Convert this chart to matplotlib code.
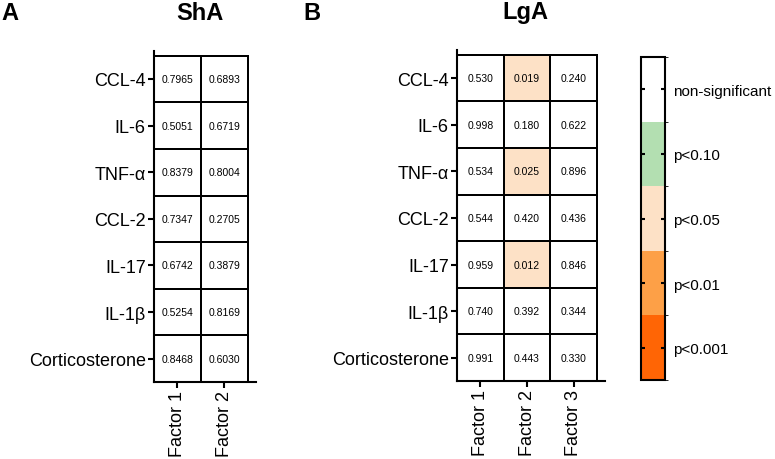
import numpy as np
import matplotlib
matplotlib.use("Agg")
import matplotlib.pyplot as plt
from matplotlib.colors import ListedColormap, BoundaryNorm
from matplotlib.cm import ScalarMappable

plt.rcParams['font.family'] = ['Liberation Sans', 'DejaVu Sans']

rows = ["CCL-4", "IL-6", "TNF-α", "CCL-2", "IL-17", "IL-1β", "Corticosterone"]
sha_cols = ["Factor 1", "Factor 2"]
lga_cols = ["Factor 1", "Factor 2", "Factor 3"]

sha_p = [[0.7965, 0.6893],
         [0.5051, 0.6719],
         [0.8379, 0.8004],
         [0.7347, 0.2705],
         [0.6742, 0.3879],
         [0.5254, 0.8169],
         [0.8468, 0.6030]]
sha_txt = [["0.7965", "0.6893"], ["0.5051", "0.6719"], ["0.8379", "0.8004"],
           ["0.7347", "0.2705"], ["0.6742", "0.3879"], ["0.5254", "0.8169"],
           ["0.8468", "0.6030"]]

lga_p = [[0.530, 0.019, 0.240],
         [0.998, 0.180, 0.622],
         [0.534, 0.025, 0.896],
         [0.544, 0.420, 0.436],
         [0.959, 0.012, 0.846],
         [0.740, 0.392, 0.344],
         [0.991, 0.443, 0.330]]

bounds = [0, 0.001, 0.01, 0.05, 0.10, 1.0]
band_labels = ["p<0.001", "p<0.01", "p<0.05", "p<0.10", "non-significant"]
colors = ["#ff6505", "#fda047", "#fde1c6", "#b3dfb1", "#ffffff"]

cmap = ListedColormap(colors)
norm = BoundaryNorm(bounds, cmap.N)

fig = plt.figure(figsize=(7.75, 4.6), dpi=100)


def heat(ax, p, labels, cols):
    p = np.array(p)
    nr, nc = p.shape
    ax.pcolormesh(np.arange(nc + 1), np.arange(nr + 1), p, cmap=cmap, norm=norm,
                  edgecolor="black", linewidth=1.1)
    for i in range(nr):
        for j in range(nc):
            ax.text(j + 0.5, i + 0.5, labels[i][j], ha="center", va="center", fontsize=7.5)
    ax.set_xlim(0, nc + 0.17)
    ax.set_ylim(nr, -0.1)
    ax.spines["top"].set_visible(False)
    ax.spines["right"].set_visible(False)
    ax.spines["left"].set_linewidth(1.5)
    ax.spines["bottom"].set_linewidth(1.5)
    ax.set_xticks(np.arange(nc) + 0.5)
    ax.set_xticklabels(cols, rotation=90, fontsize=13)
    ax.set_yticks(np.arange(nr) + 0.5)
    ax.set_yticklabels(rows, fontsize=13)
    ax.tick_params(length=4, width=1.5, pad=2)


ax1 = fig.add_axes([0.1987, 0.1674, 0.1316, 0.7196])
heat(ax1, sha_p, sha_txt, sha_cols)

ax2 = fig.add_axes([0.5897, 0.1696, 0.191, 0.719])
heat(ax2, lga_p, [["%.3f" % v for v in r] for r in lga_p], lga_cols)

cax = fig.add_axes([0.827, 0.1717, 0.031, 0.702])
centers = [(bounds[k] + bounds[k + 1]) / 2 for k in range(len(bounds) - 1)]
cb = fig.colorbar(ScalarMappable(norm=norm, cmap=cmap), cax=cax,
                  spacing="uniform", ticks=centers)
cb.set_ticklabels(band_labels)
cb.outline.set_linewidth(1.5)
cax.tick_params(axis="y", direction="in", left=True, right=True, length=3,
                width=1.5, labelsize=11, pad=6)

fig.text(200 / 775, 1 - 13 / 460, "ShA", ha="center", va="center", fontsize=17, fontweight="bold")
fig.text(525 / 775, 1 - 13 / 460, "LgA", ha="center", va="center", fontsize=17, fontweight="bold")
fig.text(10 / 775, 1 - 13 / 460, "A", ha="center", va="center", fontsize=17, fontweight="bold")
fig.text(312 / 775, 1 - 13 / 460, "B", ha="center", va="center", fontsize=17, fontweight="bold")

fig.savefig("out.png", dpi=100)
